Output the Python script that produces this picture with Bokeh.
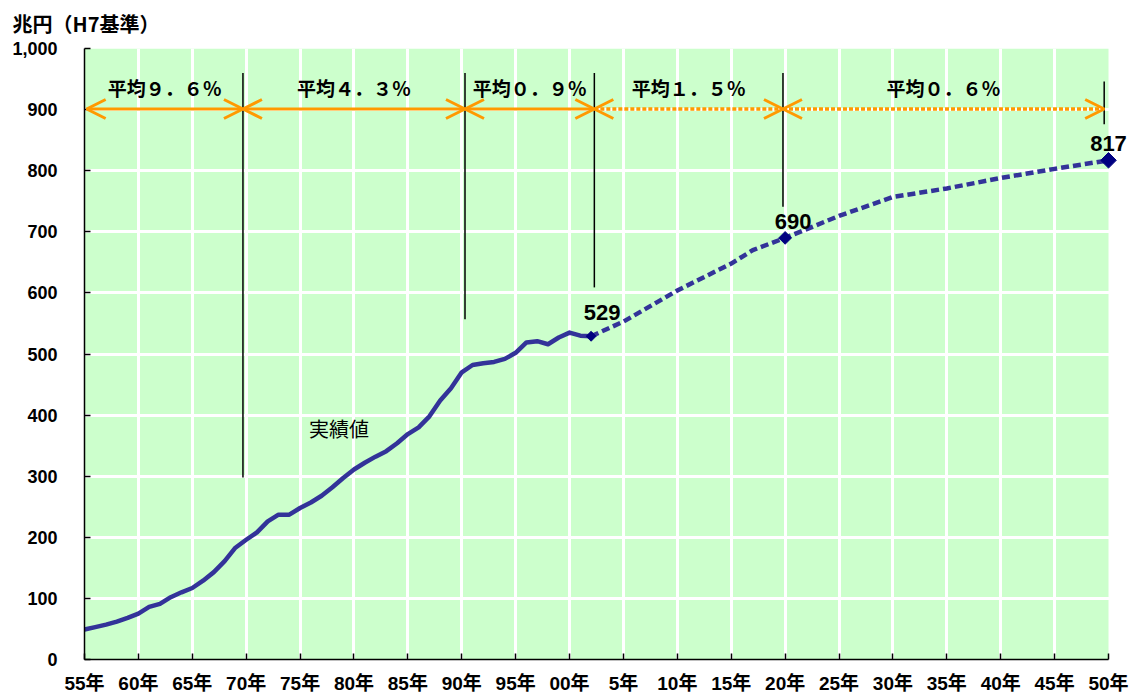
import math
from bokeh.plotting import figure
from bokeh.models import (Range1d, FixedTicker, NumeralTickFormatter, Arrow, OpenHead, Label)
from bokeh.core.properties import value
from bokeh.embed import file_html
from bokeh.resources import INLINE

# ---------------- data ----------------
actual_years = list(range(1955, 2003))
actual_values = [49, 53, 57, 62, 68, 75, 86, 91, 102, 110,
                 117, 129, 143, 161, 183, 196, 208, 226, 237, 237,
                 248, 257, 268, 282, 297, 311, 322, 332, 341, 354,
                 369, 380, 398, 424, 444, 470, 482, 485, 487, 492,
                 502, 519, 521, 516, 527, 535, 530, 529]

proj_years = [2002, 2005, 2010, 2015, 2017, 2020, 2025, 2030, 2035, 2040, 2045, 2050]
proj_values = [529, 553, 604, 648, 670, 690, 726, 757, 771, 788, 803, 817]

marker_years = [2002, 2020, 2050]
marker_values = [529, 690, 817]
marker_labels = ["529", "690", "817"]

# period boundaries (years) and average growth rates
boundary_years = [1955.2, 1969.7, 1990.3, 2002.3, 2019.8, 2049.6]
boundary_tops = [960, 960, 960, 960, 946]
boundary_bottoms = [298, 557, 609, 741, 876]
period_labels = ["平均９．６％", "平均４．３％", "平均０．９％", "平均１．５％", "平均０．６％"]
period_dashed = [False, False, False, True, True]
arrow_level = 901

tick_years = list(range(1955, 2051, 5))
tick_labels = ["55年", "60年", "65年", "70年", "75年", "80年", "85年", "90年", "95年", "00年",
               "5年", "10年", "15年", "20年", "25年", "30年", "35年", "40年", "45年", "50年"]
y_ticks = list(range(0, 1001, 100))

title_text = "兆円（H7基準）"
actual_text = "実績値"

# ---------------- styles ----------------
GREEN = "#CCFFCC"
LINE = "#333399"
MARK = "#000080"
ORANGE = "#FF9900"
FONT = "'Liberation Sans', 'Noto Sans CJK JP', sans-serif"
CJK = "'Noto Sans CJK JP', sans-serif"

x0, x1 = 1955, 2050
FRAME_W = 1048
x_end = 1955 + FRAME_W * 95 / 1024

p = figure(width=1136, height=696, x_range=Range1d(x0, x_end), y_range=Range1d(0, 1000),
           output_backend="svg", toolbar_location=None,
           min_border_left=84, min_border_right=1136 - 84 - FRAME_W,
           min_border_top=48, min_border_bottom=37,
           background_fill_color="white", border_fill_color="white", outline_line_color=None)

p.title.text = title_text
p.title.text_font = CJK
p.title.text_font_style = "bold"
p.title.text_font_size = "20px"
p.title.text_color = "black"
p.title.align = "left"
p.title.vertical_align = "top"
p.title.offset = -72
p.title.standoff = 17

# green plot area
p.quad(left=[x0], right=[x1], bottom=[0], top=[1000], fill_color=GREEN, line_color=None,
       level="image")

# axes
p.xaxis.ticker = FixedTicker(ticks=tick_years)
p.xaxis.major_label_overrides = {t: l for t, l in zip(tick_years, tick_labels)}
p.xaxis.bounds = (x0, x1)
p.yaxis.ticker = FixedTicker(ticks=y_ticks)
p.yaxis.formatter = NumeralTickFormatter(format="0,0")
for ax in (p.xaxis, p.yaxis):
    ax.axis_line_color = "black"
    ax.axis_line_width = 1.5
    ax.major_tick_line_color = "black"
    ax.major_tick_line_width = 1.5
    ax.major_tick_in = 6
    ax.major_tick_out = 0
    ax.minor_tick_line_color = None
    ax.major_label_text_font = FONT
    ax.major_label_text_font_style = "bold"
    ax.major_label_text_font_size = "18px"
    ax.major_label_text_color = "black"
p.xaxis.major_label_text_font_size = "19px"
p.xaxis.major_label_standoff = 13
p.yaxis.major_label_standoff = 27

# grid
p.xgrid.ticker = FixedTicker(ticks=tick_years[1:-1])
p.ygrid.ticker = FixedTicker(ticks=y_ticks[1:-1])
p.grid.grid_line_color = "white"
p.grid.grid_line_width = 3
p.grid.grid_line_alpha = 1.0

# period boundary lines
p.segment(x0=boundary_years[1:], y0=boundary_bottoms, x1=boundary_years[1:], y1=boundary_tops,
          line_color="black", line_width=1.5)

# arrows
for i in range(len(period_labels)):
    xs, xe = boundary_years[i], boundary_years[i + 1]
    arr = Arrow(x_start=xs, y_start=arrow_level, x_end=xe, y_end=arrow_level,
                line_color=ORANGE, line_width=3.5 if period_dashed[i] else 3,
                line_dash="4 2" if period_dashed[i] else "solid",
                start=OpenHead(size=19, line_color=ORANGE, line_width=3),
                end=OpenHead(size=19, line_color=ORANGE, line_width=3))
    p.add_layout(arr)

mids = [(boundary_years[i] + boundary_years[i + 1]) / 2 for i in range(len(period_labels))]
p.text(x=mids, y=[936] * len(mids), text=period_labels, text_font=value(CJK),
       text_font_style="bold", text_font_size="19px", text_align="center",
       text_baseline="middle", text_color="black")

# data lines
p.line(actual_years, actual_values, line_color=LINE, line_width=4.5, line_join="round")
p.line(proj_years, proj_values, line_color=LINE, line_width=4.5, line_dash="8 4")
p.scatter(marker_years, marker_values, marker="square", angle=math.pi / 4,
          size=[7, 9, 11], color=MARK)

offsets = [(11, 24), (8, 16), (0, 17)]
for xv, yv, t, (dx, dy) in zip(marker_years, marker_values, marker_labels, offsets):
    p.add_layout(Label(x=xv, y=yv, text=t, x_offset=dx, y_offset=dy,
                       text_font=FONT, text_font_style="bold", text_font_size="22px",
                       text_align="center", text_baseline="middle", text_color="black"))

p.text(x=[1978.6], y=[378], text=[actual_text], text_font=value(CJK),
       text_font_size="20px", text_align="center", text_baseline="middle", text_color="black")

open("out.html", "w").write(file_html(p, INLINE))
